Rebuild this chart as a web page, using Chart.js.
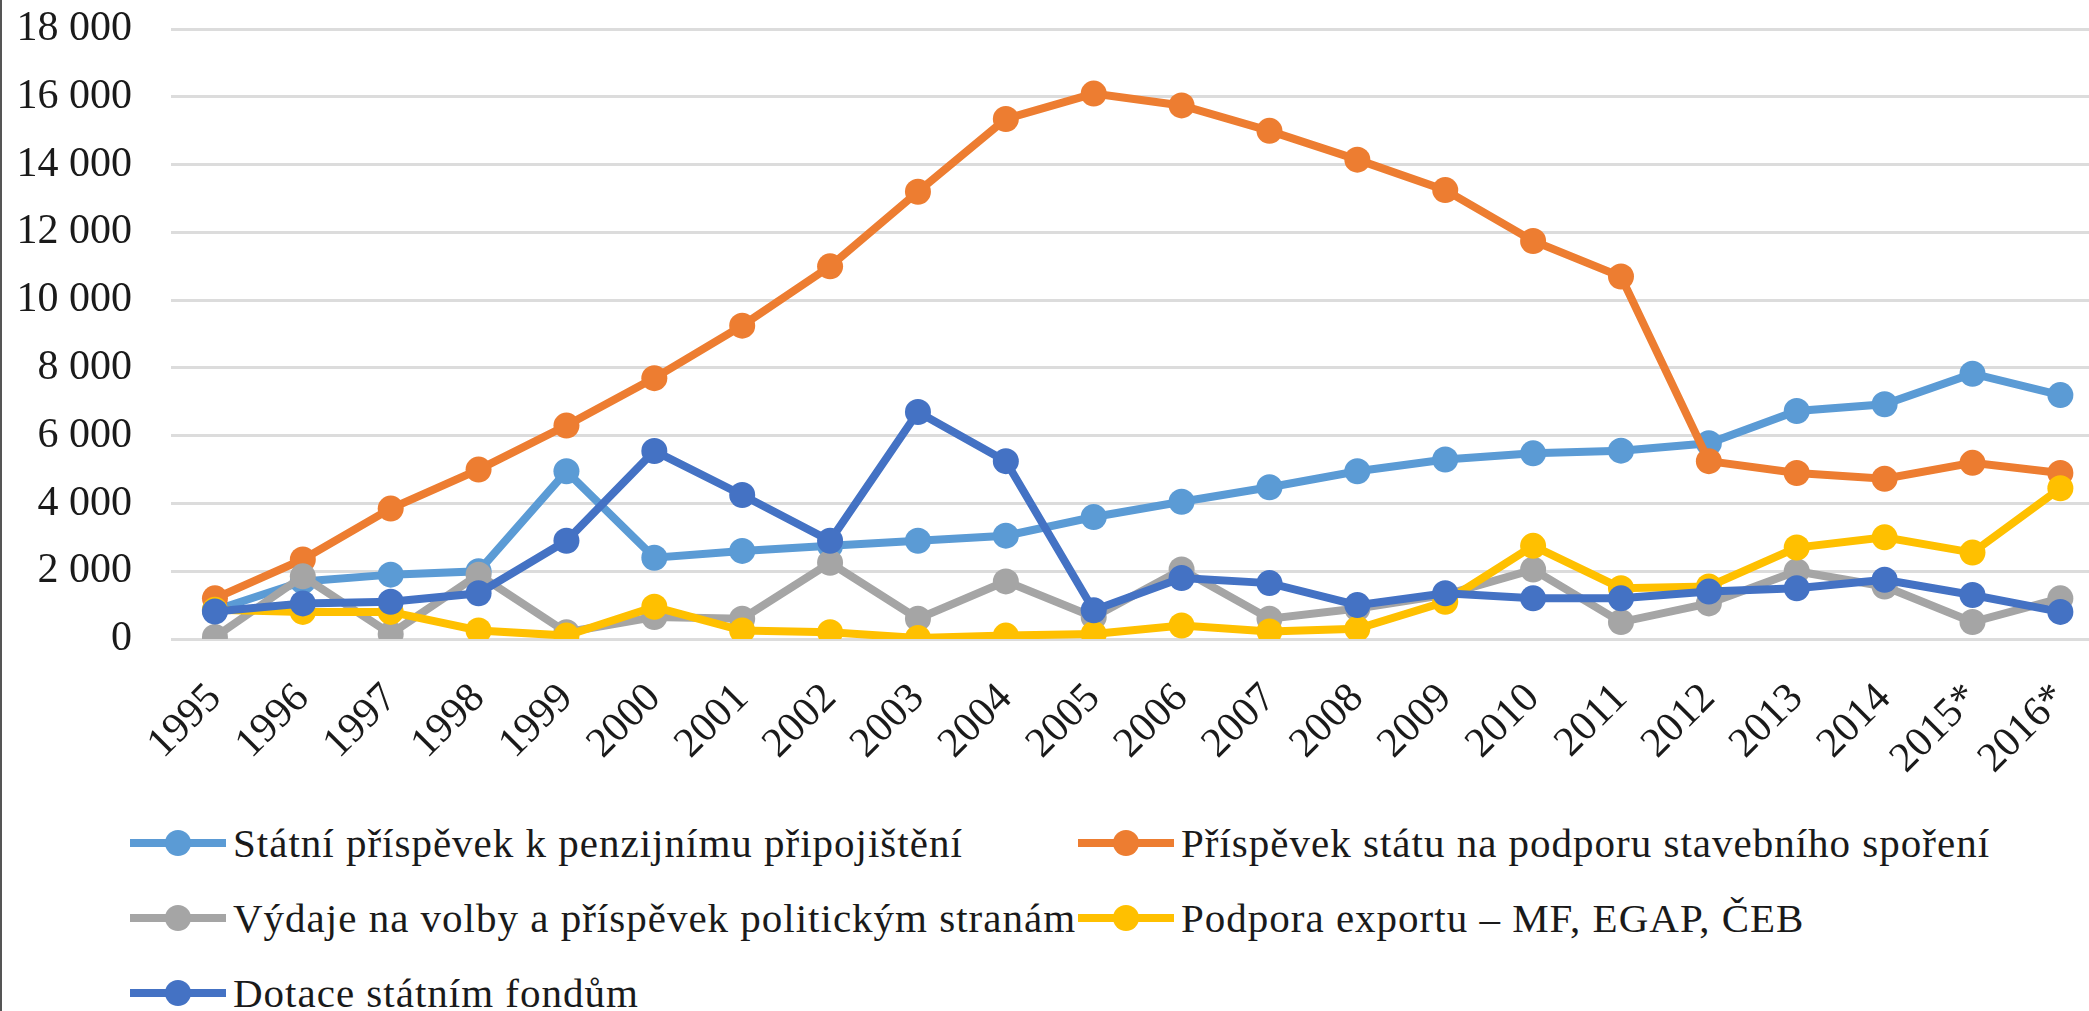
<!DOCTYPE html>
<html>
<head>
<meta charset="utf-8">
<script src="https://cdn.jsdelivr.net/npm/chart.js@4.4.1/dist/chart.umd.min.js"></script>
<style>
    html, body { margin: 0; padding: 0; background: #fff; overflow: hidden; }
    #page { position: relative; width: 2089px; height: 1011px; overflow: hidden; }
    #chartBox { position: absolute; left: 0; top: -35px; width: 2131px; height: 845px; }
    #edge { position: absolute; left: 0; top: 0; width: 2px; height: 1011px; background: #555; }
    .legend-item { position: absolute; height: 40px; display: flex; align-items: center;
                   font-family: "Liberation Serif", "Times New Roman", Times, serif; font-size: 41px;
                   letter-spacing: 1px; color: #1a1a1a; white-space: nowrap; }
    .legend-mark { position: relative; width: 96px; height: 40px; margin-right: 7px; flex: none; }
    .legend-mark .ln { position: absolute; left: 0; right: 0; top: 16px; height: 8px; }
    .legend-mark .dot { position: absolute; left: 35px; top: 7px; width: 26px; height: 26px; border-radius: 50%; }
</style>
</head>
<body>
<div id="page">
    <div id="chartBox"><canvas id="lineChart"></canvas></div>
    <div id="edge"></div>
</div>
<script>
// years on the x axis
const years = ["1995", "1996", "1997", "1998", "1999", "2000", "2001", "2002", "2003", "2004", "2005",
               "2006", "2007", "2008", "2009", "2010", "2011", "2012", "2013", "2014", "2015*", "2016*"];

// series values (mil. Kč)
const penzijni = [850, 1700, 1900, 2000, 4950, 2400, 2600, 2750, 2900, 3050, 3600,
                  4050, 4480, 4950, 5300, 5480, 5560, 5780, 6730, 6930, 7830, 7200];
const stavebni = [1200, 2350, 3850, 5000, 6300, 7700, 9250, 11000, 13200, 15350, 16100,
                  15750, 15000, 14150, 13250, 11750, 10700, 5250, 4900, 4730, 5200, 4900];
const volby = [60, 1850, 150, 1900, 200, 650, 600, 2250, 600, 1700, 650,
               2050, 600, 900, 1300, 2050, 500, 1050, 2000, 1550, 500, 1200];
const export_ = [860, 800, 800, 250, 100, 950, 250, 200, 30, 100, 150,
                 400, 220, 300, 1100, 2750, 1500, 1550, 2700, 3000, 2550, 4450];
const fondy = [810, 1050, 1100, 1350, 2900, 5550, 4250, 2900, 6700, 5250, 850,
               1800, 1650, 1000, 1350, 1200, 1200, 1400, 1500, 1750, 1300, 800];

const seriesNames = [
    "Státní příspěvek k penzijnímu připojištění",
    "Příspěvek státu na podporu stavebního spoření",
    "Výdaje na volby a příspěvek politickým stranám",
    "Podpora exportu – MF, EGAP, ČEB",
    "Dotace státním fondům"
];
const seriesData = [penzijni, stavebni, volby, export_, fondy];
const seriesColors = ["#5B9BD5", "#ED7D31", "#A5A5A5", "#FFC000", "#4472C4"];

// y axis ticks
const yMin = 0, yMax = 18000, yStep = 2000;

function fmtThousands(v) {
    return String(v).replace(/\B(?=(\d{3})+(?!\d))/g, " ");
}

const datasets = seriesData.map((d, i) => ({
    label: seriesNames[i],
    data: d,
    borderColor: seriesColors[i],
    backgroundColor: seriesColors[i],
    pointBackgroundColor: seriesColors[i],
    pointBorderColor: seriesColors[i],
    pointBorderWidth: 0,
    pointRadius: 13,
    borderWidth: 8,
    tension: 0,
    order: seriesData.length - i // later series drawn on top, like Excel
}));

const tickFont = { family: "'Liberation Serif', 'Times New Roman', Times, serif", size: 42 };

new Chart(document.getElementById("lineChart").getContext("2d"), {
    type: "line",
    data: { labels: years, datasets: datasets },
    options: {
        responsive: true,
        maintainAspectRatio: false,
        animation: false,
        layout: { autoPadding: false, padding: { top: 28, right: 0, bottom: 0, left: 0 } },
        plugins: {
            legend: { display: false },
            tooltip: { enabled: false }
        },
        scales: {
            x: {
                offset: true,
                grid: { display: false, drawTicks: false },
                border: { display: false },
                ticks: {
                    autoSkip: false, maxRotation: 45, minRotation: 45,
                    padding: 35, labelOffset: 0, color: "#1a1a1a", font: tickFont
                },
                afterFit: function (scale) { scale.height = 171; }
            },
            y: {
                min: yMin, max: yMax,
                grid: { color: "#dcdcdc", lineWidth: 3, drawTicks: false },
                border: { display: false },
                ticks: {
                    stepSize: yStep, padding: 39, color: "#1a1a1a", font: tickFont,
                    callback: function (v) { return fmtThousands(v); }
                },
                afterFit: function (scale) { scale.width = 171; }
            }
        }
    }
});

// legend in two columns below the plot, built from the series names
const page = document.getElementById("page");
seriesNames.forEach(function (name, i) {
    const col = i % 2, row = Math.floor(i / 2);
    const item = document.createElement("div");
    item.className = "legend-item";
    item.style.left = (col === 0 ? 130 : 1078) + "px";
    item.style.top = (823 + row * 75) + "px";
    const mark = document.createElement("div");
    mark.className = "legend-mark";
    mark.innerHTML = '<div class="ln" style="background:' + seriesColors[i] + '"></div>' +
                     '<div class="dot" style="background:' + seriesColors[i] + '"></div>';
    const txt = document.createElement("span");
    txt.textContent = name;
    item.appendChild(mark);
    item.appendChild(txt);
    page.appendChild(item);
});
</script>
</body>
</html>
